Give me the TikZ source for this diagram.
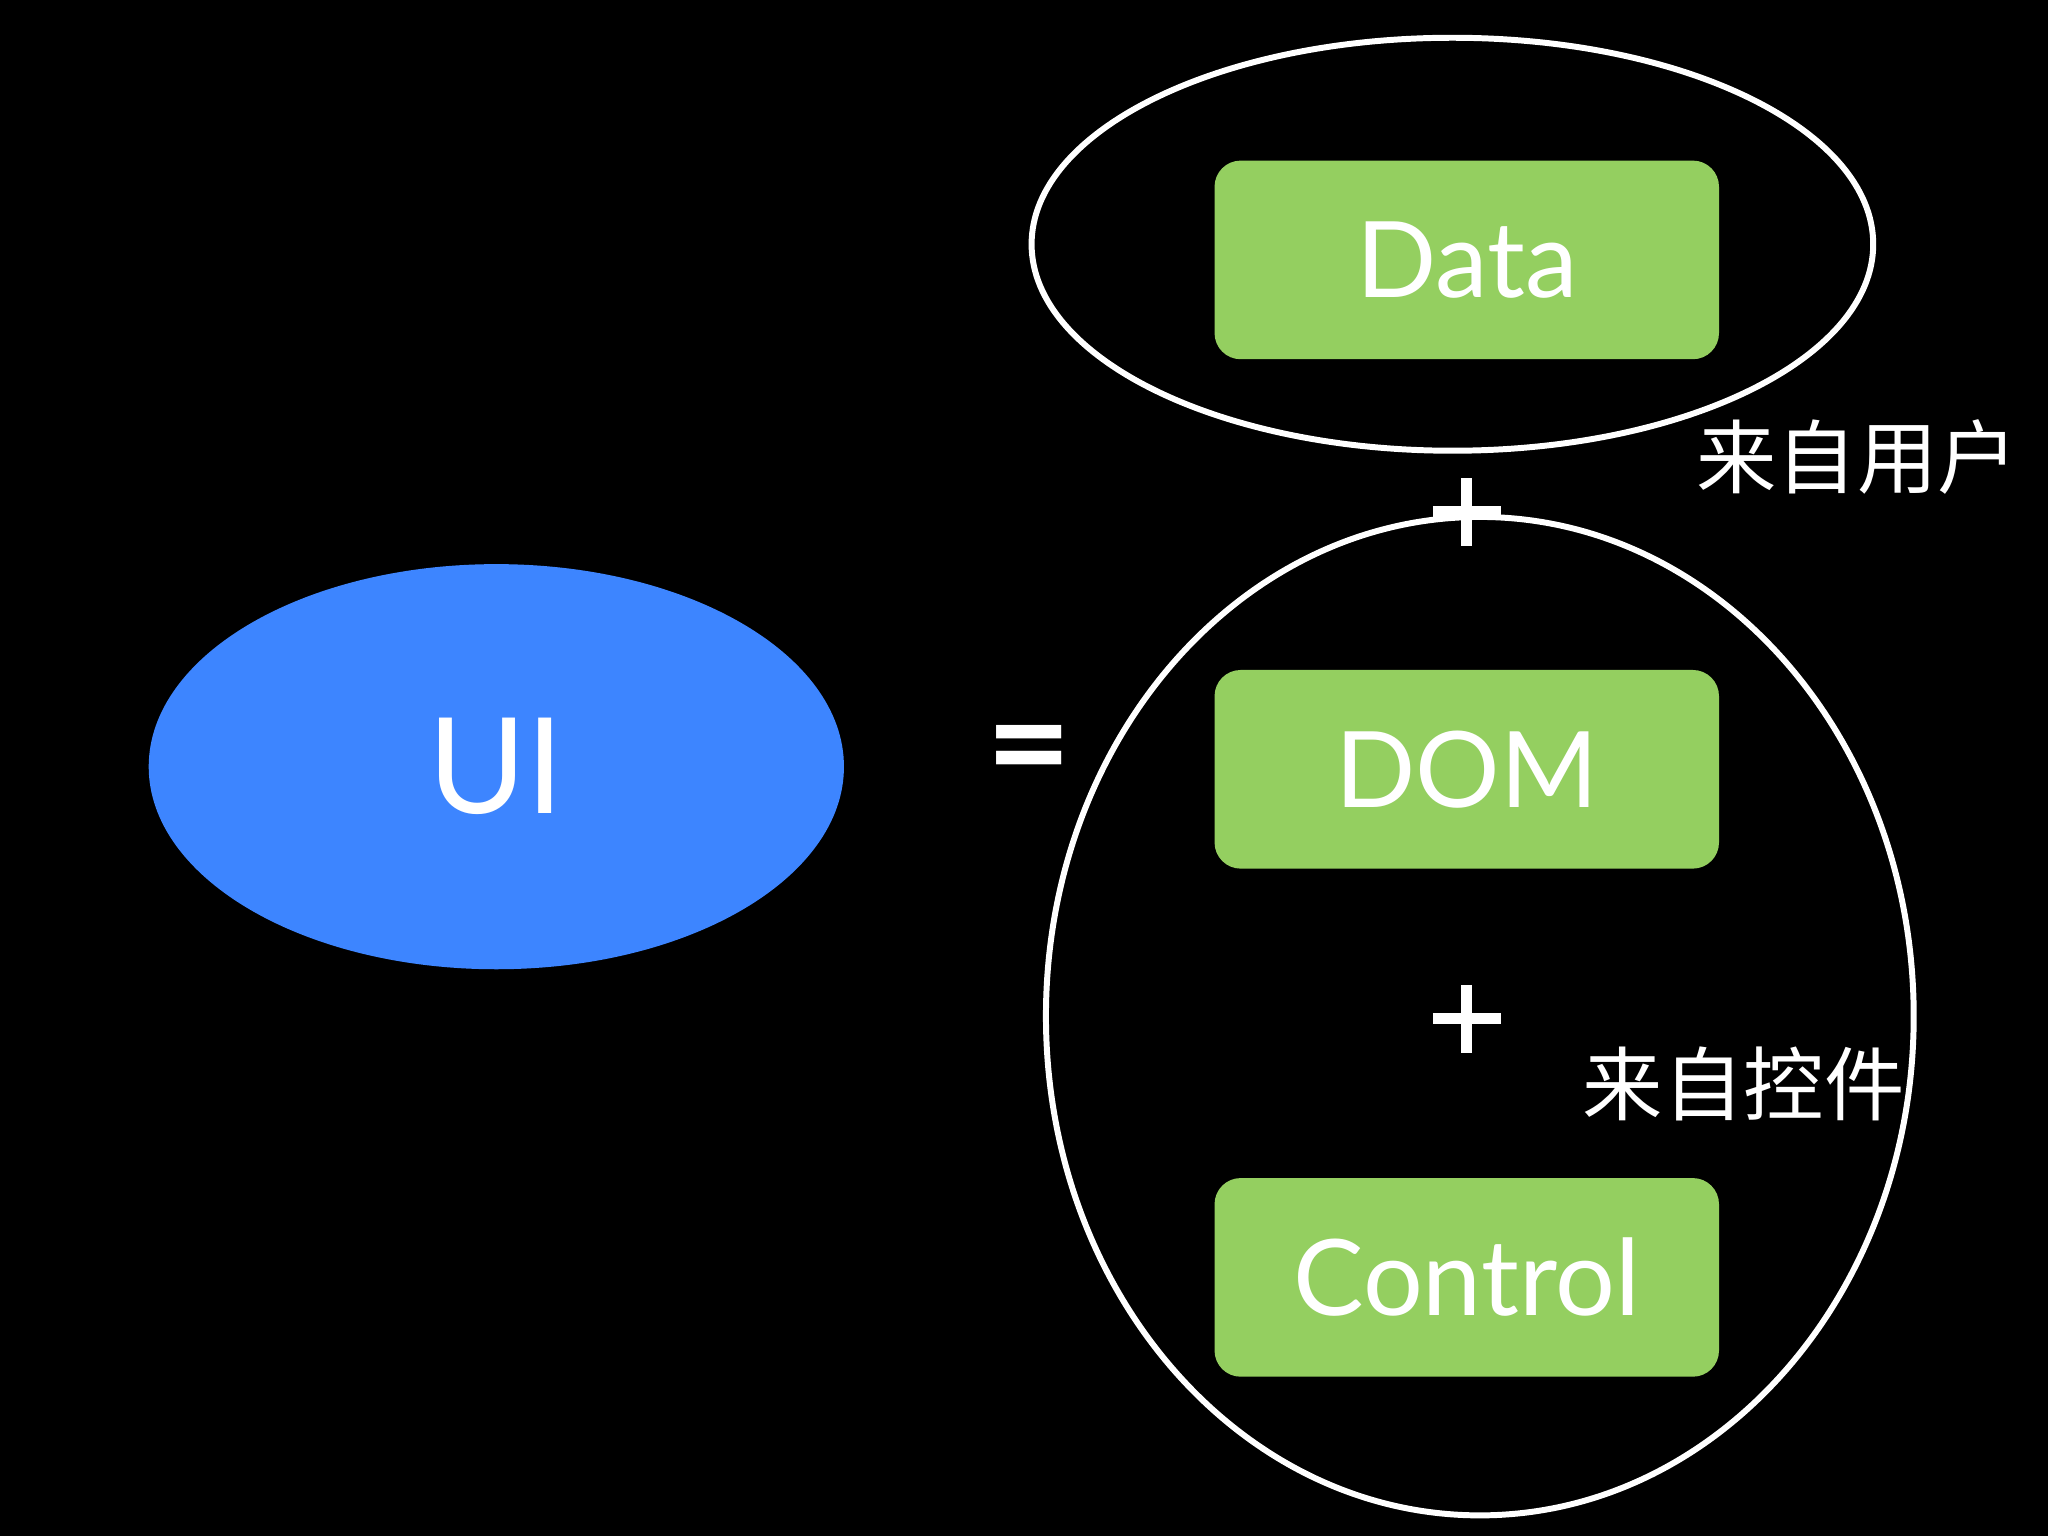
\documentclass[tikz,border=0pt]{standalone}
\usepackage{fontspec}
\setmainfont{Lato}
\newfontfamily\cjk{Noto Sans CJK SC}
\definecolor{uiblue}{HTML}{3D85FF}
\definecolor{boxgreen}{HTML}{94CF60}
\begin{document}
\begin{tikzpicture}[x=0.01cm,y=-0.01cm,
  box/.style={fill=boxgreen,rounded corners=0.2cm,minimum width=3.86cm,minimum height=1.52cm,inner sep=0,text=white,font=\fontsize{23}{23}\selectfont},
  ring/.style={draw=white,line width=1.3pt},
  lbl/.style={text=white,font=\cjk\fontsize{17.5}{17.5}\selectfont},
  plus/.style={draw=white,line width=2.4pt}]
\fill[black] (0,0) rectangle (1568,1176);
\useasboundingbox (0,0) rectangle (1568,1176);
\fill[uiblue] (380,587) ellipse [x radius=2.66cm,y radius=1.55cm];
\node[text=white,font=\fontsize{29}{29}\selectfont] (ui) at (380,587) {UI};
\node[text=white,font=\fontsize{32}{32}\selectfont\bfseries] (eq) at (788,582) {=};
\node[box] (data) at (1123,199) {Data};
\node[box] (dom) at (1123,589) {DOM};
\node[box] (ctrl) at (1123,978) {Control};
\draw[plus] (1097,392) -- (1149,392) (1123,366) -- (1123,418);
\draw[plus] (1097,780) -- (1149,780) (1123,754) -- (1123,806);
\draw[ring] (1112,187) ellipse [x radius=3.22cm,y radius=1.58cm];
\draw[ring] (1133,778) ellipse [x radius=3.32cm,y radius=3.82cm];
\node[lbl] (u1) at (1422,350) {来自用户};
\node[lbl] (u2) at (1335,830) {来自控件};
\end{tikzpicture}
\end{document}
